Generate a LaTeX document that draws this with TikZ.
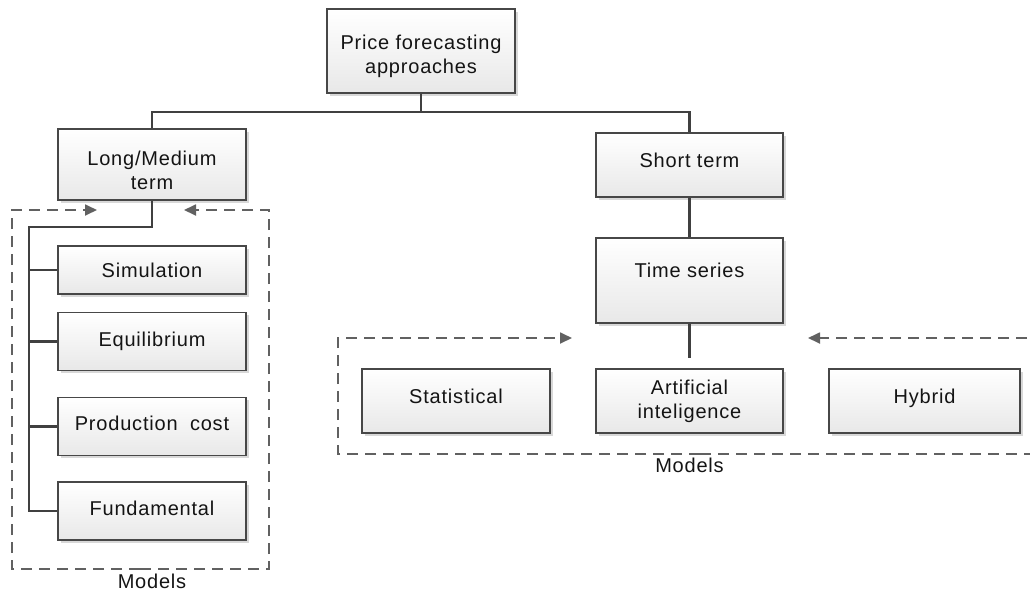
\documentclass[tikz,border=0pt]{standalone}
\usepackage{fontspec}
\setmainfont[LetterSpace=4]{Liberation Sans}
\usetikzlibrary{shadows,arrows.meta}
\begin{document}
\begin{tikzpicture}[x=1pt,y=-1pt,
  box/.style={draw=black!72, line width=1.3pt, top color=white, bottom color=black!9,
    drop shadow={shadow xshift=2.5pt,shadow yshift=-2.5pt,fill=black!30,opacity=0.5},
    minimum width=188pt, inner sep=0pt, align=center, text=black!92},
  up/.style={text height=15pt, text depth=#1},
  conn/.style={draw=black!75, line width=2.2pt},
  dashedframe/.style={draw=black!62, line width=1.8pt, dash pattern=on 11pt off 7pt},
  dasharrow/.style={dashedframe, -{Triangle[length=12pt,width=11pt]}},
  lbl/.style={text=black!92, inner sep=0pt}
]
\fontsize{20}{24}\selectfont
\useasboundingbox (0,0) rectangle (1030,592);
\clip (0,0) rectangle (1030,592);
% nodes
\node[box, minimum height=84pt, text height=48pt, text depth=3pt] (price) at (421,51) {Price forecasting\\approaches};
\node[box, minimum height=71pt, text height=50pt, text depth=0pt] (lm) at (152,164.5) {Long/Medium\\term};
\node[box, up=10.6pt, minimum width=187pt, minimum height=64pt] (st) at (689.5,165) {Short term};
\node[box, up=20.6pt, minimum width=187pt, minimum height=85pt] (ts) at (689.5,280.5) {Time series};
\node[box, up=10.6pt, minimum height=64pt] (stat) at (456,401) {Statistical};
\node[box, minimum width=187pt, minimum height=64pt] (ai) at (689.5,401) {Artificial\\inteligence};
\node[box, up=10.6pt, minimum width=191pt, minimum height=64pt] (hyb) at (924.5,401) {Hybrid};
\node[box, up=1pt, minimum height=48pt] (sim) at (152,270) {Simulation};
\node[box, up=6pt, minimum height=58pt] (equ) at (152,341.5) {Equilibrium};
\node[box, up=7pt, minimum height=58pt] (prod) at (152,426.5) {Production\hspace{0.3em} cost};
\node[box, up=7pt, minimum height=58pt] (fund) at (152,511) {Fundamental};
\node[lbl] (m1) at (152,581) {Models};
\node[lbl] (m2) at (689.5,465) {Models};
% connectors
\coordinate (bus) at (421,112);
\draw[conn] (price.south) -- (bus);
\draw[conn] (lm.north) |- (bus) -| (st.north);
\draw[conn] (st.south) -- (ts.north);
\coordinate (tsend) at (689.5,358);
\draw[conn] (ts.south) -- (tsend);
\coordinate (elbow) at (29,227);
\draw[conn] (lm.south) |- (elbow) -- (elbow |- fund.west) -- (fund.west);
\draw[conn] (elbow |- sim.west) -- (sim.west);
\draw[conn] (elbow |- equ.west) -- (equ.west);
\draw[conn] (elbow |- prod.west) -- (prod.west);
% dashed frames
\draw[dasharrow] (140,569) -| (12,210) -- (97,210);
\draw[dasharrow] (140,569) -| (269,210) -- (184,210);
\draw[dasharrow] (700,454) -| (338,338) -- (572,338);
\draw[dashedframe] (700,454) -- (1045,454);
\draw[dasharrow] (1045,338) -- (808,338);
\end{tikzpicture}
\end{document}
